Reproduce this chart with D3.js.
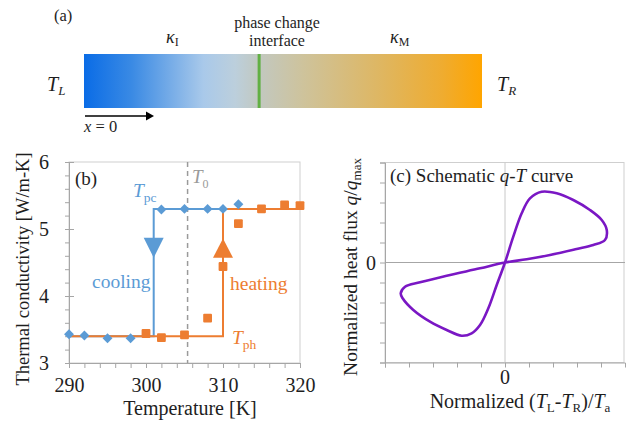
<!DOCTYPE html>
<html><head><meta charset="utf-8">
<script src="https://cdn.jsdelivr.net/npm/d3@7"></script>
<style>body{margin:0;background:#fff}svg{display:block}text{font-family:"Liberation Serif","Times New Roman",serif}</style>
</head><body>
<script>
// ---------- data ----------
const coolT = [290, 292, 295, 298, 302, 305, 308, 310, 312];
const coolK = [3.43, 3.41, 3.37, 3.37, 5.29, 5.30, 5.30, 5.30, 5.37];
const heatT = [300, 302, 305, 308, 310, 312, 315, 318, 320];
const heatK = [3.44, 3.38, 3.42, 3.67, 4.44, 5.08, 5.30, 5.36, 5.35];
const kLow = 3.40, kHigh = 5.30;
const Tpc = 301, Tph = 310, T0 = 305.4;
const xTicksB = [290, 300, 310, 320];
const yTicksB = [3, 4, 5, 6];
// schematic q-T loop (normalized)
const loopX = [0, 0.069, 0.139, 0.208, 0.306, 0.431, 0.569, 0.708, 0.806, 0.848, 0.833, 0.736, 0.597, 0.375, 0.181,
               0, -0.208, -0.486, -0.708, -0.833, -0.869, -0.853, -0.764, -0.625, -0.486, -0.361, -0.278, -0.208, -0.139, -0.069];
const loopY = [0, 0.258, 0.492, 0.642, 0.708, 0.692, 0.625, 0.525, 0.425, 0.325, 0.225, 0.175, 0.135, 0.075, 0.032,
               0, -0.058, -0.132, -0.198, -0.242, -0.308, -0.358, -0.475, -0.592, -0.675, -0.732, -0.708, -0.625, -0.458, -0.225];

const blue = "#5b9bd5", orange = "#ed7d31", purple = "#7a17c4";
const axisC = "#a6a6a6", frameC = "#cfcfcf", ink = "#1e1e1e";

const svg = d3.select("body").append("svg").attr("width", 626).attr("height", 426);
svg.append("rect").attr("width", 626).attr("height", 426).attr("fill", "#fff");

// ---------- panel (a) ----------
const defs = svg.append("defs");
const grad = defs.append("linearGradient").attr("id", "bar").attr("x1", "0").attr("x2", "1").attr("y1", "0").attr("y2", "0");
[[0, "#0a6ce6"], [0.12, "#3a8ae4"], [0.3, "#a9c9ea"], [0.38, "#bccfdc"], [0.44, "#c2c8c0"], [0.55, "#cec39c"],
 [0.75, "#dfb660"], [0.9, "#efac30"], [1, "#ffa500"]].forEach(([o, c]) =>
  grad.append("stop").attr("offset", o).attr("stop-color", c));
const barX = d3.scaleLinear([0, 1], [84, 482]);
svg.append("rect").attr("x", barX(0)).attr("y", 54).attr("width", barX(1) - barX(0)).attr("height", 54).attr("fill", "url(#bar)");
svg.append("line").attr("x1", barX(0.44)).attr("x2", barX(0.44)).attr("y1", 54).attr("y2", 108)
  .attr("stroke", "#62b044").attr("stroke-width", 3);
svg.append("text").attr("x", 54).attr("y", 21).attr("font-size", 16.5).attr("fill", ink).text("(a)");
svg.append("text").attr("x", 277).attr("y", 28).attr("font-size", 16).attr("text-anchor", "middle").attr("fill", ink).text("phase change");
svg.append("text").attr("x", 277).attr("y", 46).attr("font-size", 16).attr("text-anchor", "middle").attr("fill", ink).text("interface");
let t = svg.append("text").attr("x", 166).attr("y", 43).attr("font-size", 18).attr("fill", ink);
t.append("tspan").attr("font-style", "italic").text("κ");
t.append("tspan").attr("font-size", 12).attr("dy", 3).text("I");
t = svg.append("text").attr("x", 390).attr("y", 43).attr("font-size", 18).attr("fill", ink);
t.append("tspan").attr("font-style", "italic").text("κ");
t.append("tspan").attr("font-size", 12).attr("dy", 3).text("M");
t = svg.append("text").attr("x", 47).attr("y", 91).attr("font-size", 20).attr("fill", ink);
t.append("tspan").attr("font-style", "italic").text("T");
t.append("tspan").attr("font-style", "italic").attr("font-size", 13).attr("dy", 4).text("L");
t = svg.append("text").attr("x", 497).attr("y", 91).attr("font-size", 20).attr("fill", ink);
t.append("tspan").attr("font-style", "italic").text("T");
t.append("tspan").attr("font-style", "italic").attr("font-size", 13).attr("dy", 4).text("R");
svg.append("line").attr("x1", 85).attr("x2", 148).attr("y1", 116).attr("y2", 116).attr("stroke", "#000").attr("stroke-width", 1.5);
svg.append("path").attr("d", "M146,111.5 L154,116 L146,120.5 Z").attr("fill", "#000");
t = svg.append("text").attr("x", 84).attr("y", 132).attr("font-size", 16.5).attr("fill", ink);
t.append("tspan").attr("font-style", "italic").text("x");
t.append("tspan").text(" = 0");

// ---------- panel (b) ----------
const xb = d3.scaleLinear([290, 320], [69, 300]);
const yb = d3.scaleLinear([3, 6], [363, 162]);
const gb = svg.append("g");
gb.append("rect").attr("x", xb(290)).attr("y", yb(6)).attr("width", xb(320) - xb(290)).attr("height", yb(3) - yb(6))
  .attr("fill", "none").attr("stroke", frameC);
gb.append("g").attr("transform", `translate(${xb(290)},0)`)
  .call(d3.axisLeft(yb).tickValues(d3.range(3, 6.01, 0.2)).tickSize(4).tickFormat(""))
  .call(g => { g.select(".domain").attr("stroke", axisC); g.selectAll("line").attr("stroke", axisC); });
gb.append("g").attr("transform", `translate(${xb(290)},0)`)
  .call(d3.axisLeft(yb).tickValues(yTicksB).tickSizeInner(5).tickSizeOuter(0).tickPadding(15).tickFormat(d3.format("d")))
  .call(g => { g.select(".domain").remove(); g.selectAll("line").attr("stroke", axisC).attr("x2", 5).attr("x1", -4);
    g.selectAll("text").attr("font-size", 20).attr("font-family", "Liberation Serif").attr("fill", ink); });
gb.append("g").attr("transform", `translate(0,${yb(3)})`)
  .call(d3.axisBottom(xb).tickValues(d3.range(290, 321, 2)).tickSize(5).tickFormat(""))
  .call(g => { g.select(".domain").attr("stroke", axisC); g.selectAll("line").attr("stroke", axisC); });
gb.append("g").attr("transform", `translate(0,${yb(3)})`)
  .call(d3.axisBottom(xb).tickValues(xTicksB).tickSize(0).tickPadding(14.5).tickFormat(d3.format("d")))
  .call(g => { g.select(".domain").remove();
    g.selectAll("text").attr("font-size", 20).attr("font-family", "Liberation Serif").attr("fill", ink); });
gb.append("line").attr("x1", xb(T0)).attr("x2", xb(T0)).attr("y1", yb(6)).attr("y2", yb(3))
  .attr("stroke", "#9a9a9a").attr("stroke-width", 1.5).attr("stroke-dasharray", "5,4");
const lineB = d3.line().x(d => xb(d[0])).y(d => yb(d[1]));
gb.append("path").attr("d", lineB([[290, kLow], [Tpc, kLow], [Tpc, kHigh], [Tph, kHigh]]))
  .attr("fill", "none").attr("stroke", blue).attr("stroke-width", 2);
gb.append("path").attr("d", lineB([[290, kLow], [Tph, kLow], [Tph, kHigh], [320, kHigh]]))
  .attr("fill", "none").attr("stroke", orange).attr("stroke-width", 2);
const tri = (T, kBase, kTip, w) => `M${xb(T) - w / 2},${yb(kBase)} L${xb(T) + w / 2},${yb(kBase)} L${xb(T)},${yb(kTip)} Z`;
gb.append("path").attr("d", tri(Tpc, 4.87, 4.57, 20)).attr("fill", blue);
gb.append("path").attr("d", tri(Tph, 4.57, 4.86, 20)).attr("fill", orange);
gb.selectAll(".dia").data(coolT).join("path")
  .attr("transform", (d, i) => `translate(${xb(d)},${yb(coolK[i])}) rotate(45)`)
  .attr("d", "M-3.5,-3.5 h7 v7 h-7 Z").attr("fill", blue);
gb.selectAll(".sq").data(heatT).join("rect")
  .attr("x", d => xb(d) - 4.4).attr("y", (d, i) => yb(heatK[i]) - 4.4)
  .attr("width", 8.8).attr("height", 8.8).attr("rx", 1).attr("fill", orange);
gb.append("text").attr("x", 75).attr("y", 185).attr("font-size", 19).attr("fill", ink).text("(b)");
t = gb.append("text").attr("x", 133).attr("y", 197).attr("font-size", 19.5).attr("fill", blue);
t.append("tspan").attr("font-style", "italic").text("T");
t.append("tspan").attr("font-size", 13.5).attr("dy", 5).text("pc");
t = gb.append("text").attr("x", 192).attr("y", 183).attr("font-size", 19).attr("fill", "#9a9a9a");
t.append("tspan").attr("font-style", "italic").text("T");
t.append("tspan").attr("font-size", 12).attr("dy", 5).text("0");
gb.append("text").attr("x", 92).attr("y", 288).attr("font-size", 19.5).attr("fill", blue).text("cooling");
gb.append("text").attr("x", 230).attr("y", 290).attr("font-size", 19.5).attr("fill", orange).text("heating");
t = gb.append("text").attr("x", 232).attr("y", 344).attr("font-size", 19.5).attr("fill", orange);
t.append("tspan").attr("font-style", "italic").text("T");
t.append("tspan").attr("font-size", 13.5).attr("dy", 5).text("ph");
gb.append("text").attr("x", 190).attr("y", 414.5).attr("font-size", 20).attr("text-anchor", "middle").attr("fill", ink).text("Temperature [K]");
gb.append("text").attr("transform", "translate(29,269) rotate(-90)").attr("font-size", 18.5).attr("text-anchor", "middle")
  .attr("fill", ink).text("Thermal conductivity [W/m-K]");

// ---------- panel (c) ----------
const xc = d3.scaleLinear([-1, 1], [385, 625]);
const yc = d3.scaleLinear([-1, 1], [362.5, 162.5]);
const gc = svg.append("g");
gc.append("rect").attr("x", xc(-1)).attr("y", yc(1)).attr("width", xc(1) - xc(-1) - 1).attr("height", yc(-1) - yc(1))
  .attr("fill", "none").attr("stroke", frameC);
gc.append("g").attr("transform", `translate(${xc(-1)},0)`)
  .call(d3.axisLeft(yc).tickValues(d3.range(-1, 1.01, 0.2)).tickSize(5).tickFormat(""))
  .call(g => { g.select(".domain").attr("stroke", axisC); g.selectAll("line").attr("stroke", axisC); });
gc.append("g").attr("transform", `translate(0,${yc(-1)})`)
  .call(d3.axisBottom(xc).tickValues(d3.range(-1, 0.99, 0.2)).tickSize(5).tickFormat(""))
  .call(g => { g.select(".domain").attr("stroke", axisC); g.selectAll("line").attr("stroke", axisC); });
gc.append("line").attr("x1", xc(-1)).attr("x2", xc(1)).attr("y1", yc(0)).attr("y2", yc(0)).attr("stroke", axisC);
gc.append("line").attr("x1", xc(0)).attr("x2", xc(0)).attr("y1", yc(1)).attr("y2", yc(-1)).attr("stroke", "#c8c8c8");
gc.append("text").attr("x", xc(-1) - 9).attr("y", yc(0) + 7).attr("font-size", 20).attr("text-anchor", "end").attr("fill", ink).text("0");
gc.append("text").attr("x", xc(0)).attr("y", 384).attr("font-size", 20).attr("text-anchor", "middle").attr("fill", ink).text("0");
const loopPts = loopX.map((d, i) => [xc(d), yc(loopY[i])]);
gc.append("path").attr("d", d3.line().curve(d3.curveCatmullRomClosed.alpha(0.5))(loopPts))
  .attr("fill", "none").attr("stroke", purple).attr("stroke-width", 2.6);
t = gc.append("text").attr("x", 390).attr("y", 182).attr("font-size", 19).attr("fill", ink);
t.append("tspan").text("(c) Schematic ");
t.append("tspan").attr("font-style", "italic").text("q");
t.append("tspan").text("-");
t.append("tspan").attr("font-style", "italic").text("T");
t.append("tspan").text(" curve");
t = gc.append("text").attr("x", 520).attr("y", 408).attr("font-size", 20).attr("text-anchor", "middle").attr("fill", ink);
t.append("tspan").text("Normalized (");
t.append("tspan").attr("font-style", "italic").text("T");
t.append("tspan").attr("font-size", 13).attr("dy", 4).text("L");
t.append("tspan").attr("dy", -4).text("-");
t.append("tspan").attr("font-style", "italic").text("T");
t.append("tspan").attr("font-size", 13).attr("dy", 4).text("R");
t.append("tspan").attr("dy", -4).text(")/");
t.append("tspan").attr("font-style", "italic").text("T");
t.append("tspan").attr("font-size", 13).attr("dy", 4).text("a");
t = gc.append("text").attr("transform", "translate(357,267) rotate(-90)").attr("font-size", 19.5).attr("text-anchor", "middle").attr("fill", ink);
t.append("tspan").text("Normalized heat flux ");
t.append("tspan").attr("font-style", "italic").text("q");
t.append("tspan").text("/");
t.append("tspan").attr("font-style", "italic").text("q");
t.append("tspan").attr("font-size", 13).attr("dy", 4).text("max");
</script>
</body></html>
